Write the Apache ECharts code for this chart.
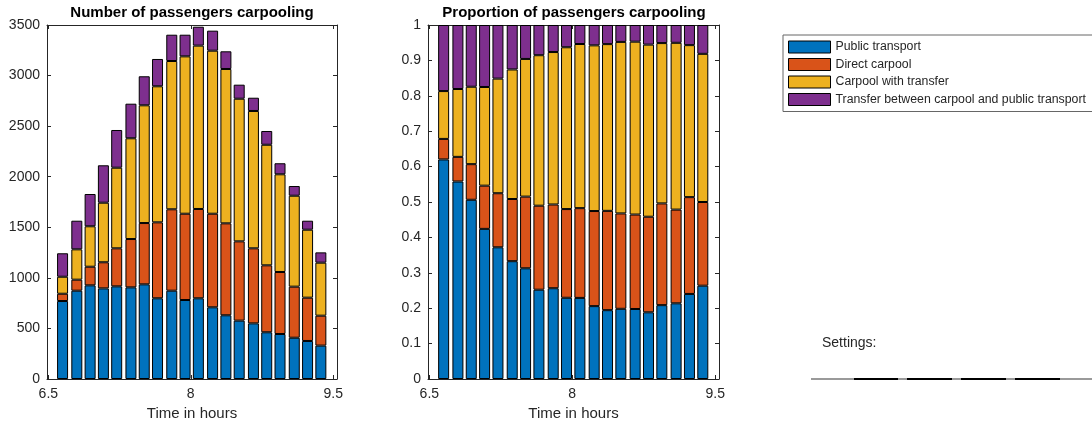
<!DOCTYPE html>
<html>
<head>
<meta charset="utf-8">
<script src="https://cdn.jsdelivr.net/npm/echarts@6/dist/echarts.min.js"></script>
<style>
html,body{margin:0;padding:0;background:#fff;}
#chart{width:1092px;height:427px;}
</style>
</head>
<body>
<div id="chart"></div>
<script>
// Time (hours) of each bar
const times = [6.65, 6.80, 6.94, 7.08, 7.22, 7.37, 7.51, 7.65, 7.80, 7.94,
               8.08, 8.23, 8.37, 8.51, 8.66, 8.80, 8.94, 9.09, 9.23, 9.37];
// Passenger counts per mode
const publicTransport = [771, 873, 926, 896, 916, 906, 936, 798, 873, 781,
                         798, 709, 630, 577, 550, 462, 445, 408, 376, 330];
const directCarpool   = [72, 109, 184, 258, 376, 478, 606, 751, 805, 853,
                         883, 925, 909, 784, 742, 662, 613, 505, 428, 296];
const carpoolTransfer = [168, 300, 400, 589, 797, 996, 1164, 1345, 1466, 1556,
                         1615, 1612, 1526, 1410, 1358, 1192, 966, 899, 672, 524];
const transferMixed   = [232, 283, 319, 370, 373, 342, 287, 270, 260, 214,
                         187, 198, 175, 139, 131, 136, 109, 96, 89, 102];
const seriesNames = ['Public transport', 'Direct carpool', 'Carpool with transfer',
                     'Transfer between carpool and public transport'];
const xTickValues = [6.5, 8, 9.5];

const colors = ['#0072BD', '#D95319', '#EDB120', '#7E2F8E'];
const allData = [publicTransport, directCarpool, carpoolTransfer, transferMixed];
const totals = times.map((t, i) => allData.reduce((s, arr) => s + arr[i], 0));

const axisColor = '#262626';
const font = 'Liberation Sans, Arial, Helvetica, sans-serif';

function xAxes(gridIndex) {
  const base = {
    type: 'value', gridIndex, min: 6.486, max: 9.54,
    axisLine: {show: true, onZero: false, lineStyle: {color: axisColor, width: 1}},
    splitLine: {show: false},
    axisTick: {show: true, inside: true, length: 4, customValues: xTickValues,
               lineStyle: {color: axisColor}},
  };
  return [
    Object.assign({}, base, {
      position: 'bottom',
      axisLabel: {show: true, customValues: xTickValues, color: axisColor,
                  fontSize: 14, fontFamily: font, margin: 8},
      name: 'Time in hours', nameLocation: 'middle', nameGap: 27,
      nameTextStyle: {color: axisColor, fontSize: 15, fontFamily: font}
    }),
    Object.assign({}, base, {position: 'top', axisLabel: {show: false}})
  ];
}
function yAxes(gridIndex, max, interval) {
  const base = {
    type: 'value', gridIndex, min: 0, max, interval,
    axisLine: {show: true, onZero: false, lineStyle: {color: axisColor, width: 1}},
    splitLine: {show: false},
    axisTick: {show: true, inside: true, length: 4, lineStyle: {color: axisColor}},
  };
  return [
    Object.assign({}, base, {
      position: 'left',
      axisLabel: {show: true, color: axisColor, fontSize: 14, fontFamily: font, margin: 7,
                  formatter: v => String(Math.round(v * 10) / 10)}
    }),
    Object.assign({}, base, {position: 'right', axisLabel: {show: false}})
  ];
}

const series = [];
seriesNames.forEach((name, k) => {
  series.push({
    name, type: 'bar', stack: 'count', xAxisIndex: 0, yAxisIndex: 0,
    barWidth: 11,
    encode: {x: 1, y: 0},
    itemStyle: {color: colors[k], borderColor: '#000', borderWidth: 1},
    data: times.map((t, i) => [allData[k][i], t])
  });
  series.push({
    name, type: 'bar', stack: 'prop', xAxisIndex: 2, yAxisIndex: 2,
    barWidth: 11,
    encode: {x: 1, y: 0},
    itemStyle: {color: colors[k], borderColor: '#000', borderWidth: 1},
    data: times.map((t, i) => [allData[k][i] / totals[i], t])
  });
});

const chart = echarts.init(document.getElementById('chart'), null, {renderer: 'canvas'});
chart.setOption({
  animation: false,
  backgroundColor: '#fff',
  textStyle: {fontFamily: font},
  title: [
    {text: 'Number of passengers carpooling', left: 192, top: 5, textAlign: 'center', padding: 0,
     textStyle: {fontSize: 15, fontWeight: 'bold', color: '#000', fontFamily: font}},
    {text: 'Proportion of passengers carpooling', left: 574, top: 5, textAlign: 'center', padding: 0,
     textStyle: {fontSize: 15, fontWeight: 'bold', color: '#000', fontFamily: font}}
  ],
  grid: [
    {left: 47, top: 25, width: 290, height: 354},
    {left: 428, top: 25, width: 291, height: 354}
  ],
  xAxis: xAxes(0).concat(xAxes(1)),
  yAxis: yAxes(0, 3500, 500).concat(yAxes(1, 1, 0.1)),
  legend: {
    orient: 'vertical', left: 783, top: 35,
    data: seriesNames,
    icon: 'rect',
    itemWidth: 42, itemHeight: 12, itemGap: 3.5,
    itemStyle: {borderWidth: 1, borderColor: '#000'},
    padding: [5, 9, 5, 5],
    borderColor: '#666', borderWidth: 1, backgroundColor: '#fff',
    textStyle: {fontSize: 12.3, color: axisColor, fontFamily: font, lineHeight: 14},
    selectedMode: false
  },
  graphic: [
    {type: 'text', left: 822, top: 336,
     style: {text: 'Settings:', fontSize: 14, fill: axisColor, fontFamily: font}},
    {type: 'line', shape: {x1: 811, y1: 379, x2: 1092, y2: 379},
     style: {stroke: '#9a9a9a', lineWidth: 2}},
    {type: 'line', shape: {x1: 854, y1: 379, x2: 898, y2: 379}, style: {stroke: '#000', lineWidth: 2}},
    {type: 'line', shape: {x1: 907, y1: 379, x2: 952, y2: 379}, style: {stroke: '#000', lineWidth: 2}},
    {type: 'line', shape: {x1: 961, y1: 379, x2: 1006, y2: 379}, style: {stroke: '#000', lineWidth: 2}},
    {type: 'line', shape: {x1: 1015, y1: 379, x2: 1060, y2: 379}, style: {stroke: '#000', lineWidth: 2}}
  ],
  series
});
</script>
</body>
</html>
